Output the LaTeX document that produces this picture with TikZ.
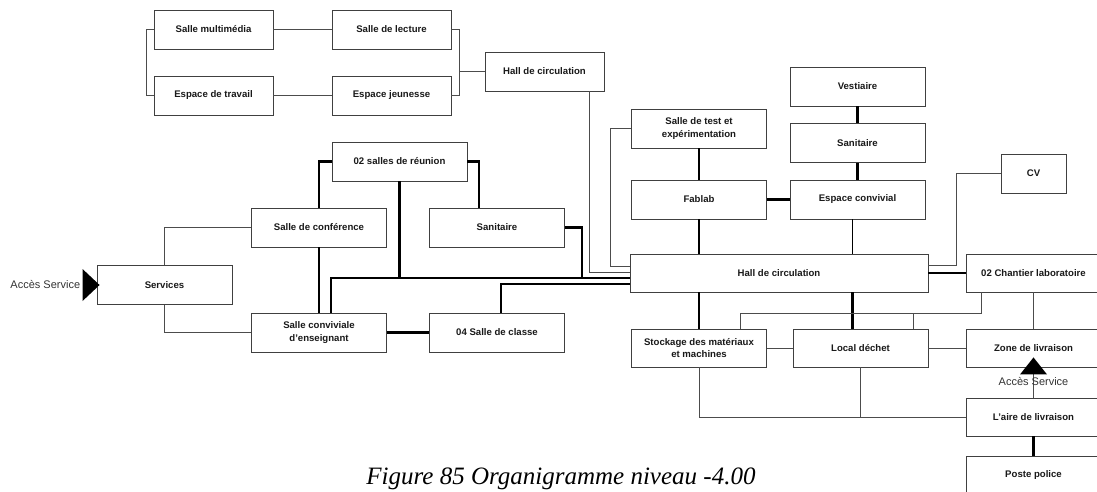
\documentclass[tikz,border=0pt]{standalone}
\usepackage{fontspec}
\setmainfont{Liberation Sans}
\newfontfamily\legendefont{Liberation Serif}
\usetikzlibrary{arrows.meta}

\begin{document}
\begin{tikzpicture}[x=1pt,y=-1pt,line width=0.75pt,
  salle/.style={draw=black!75,line width=0.9pt,fill=white,text=black!90,minimum width=135pt,minimum height=39pt,inner sep=1pt,align=center,font=\fontsize{9.6}{12.8}\selectfont\bfseries},
  petite/.style={salle,minimum width=119pt},
  lien/.style={draw=black!70,line width=0.8pt},
  lienmoyen/.style={draw=black,line width=1.5pt},
  lienfort/.style={draw=black,line width=2.2pt},
  acces/.style={font=\fontsize{11}{13}\selectfont,text=black!80,inner sep=1pt}]
\useasboundingbox (0,0) rectangle (1097,492);
\node[petite] (multimedia) at (213.5,29.5) {Salle multimédia};
\node[petite] (lecture) at (391.5,29.5) {Salle de lecture};
\node[petite] (travail) at (213.5,95.5) {Espace de travail};
\node[petite] (jeunesse) at (391.5,95.5) {Espace jeunesse};
\node[petite] (hallhaut) at (544.5,71.5) {Hall de circulation};
\node[salle] (reunion) at (399.5,161.5) {02 salles de réunion};
\node[salle] (conference) at (319,227.5) {Salle de conférence};
\node[salle] (sanitaireg) at (497,227.5) {Sanitaire};
\node[salle] (services) at (164.5,285) {Services};
\node[salle] (conviviale) at (319,332.5) {Salle conviviale\\d’enseignant};
\node[salle] (classe) at (497,332.5) {04 Salle de classe};
\node[salle] (vestiaire) at (857.5,86.5) {Vestiaire};
\node[salle] (sanitaired) at (857.5,143) {Sanitaire};
\node[salle] (test) at (699,128.5) {Salle de test et\\expérimentation};
\node[salle] (fablab) at (699,199.5) {Fablab};
\node[salle] (convivial) at (857.5,199.5) {Espace convivial};
\node[salle,minimum width=65pt] (cv) at (1033.5,173.5) {CV};
\node[salle,minimum width=298pt,minimum height=38pt] (hall) at (779,273) {Hall de circulation};
\node[salle,minimum height=38pt] (chantier) at (1033.5,273) {02 Chantier laboratoire};
\node[salle,minimum height=38pt] (stockage) at (699,348) {Stockage des matériaux\\et machines};
\node[salle,minimum height=38pt] (dechet) at (860.5,348) {Local déchet};
\node[salle,minimum height=38pt] (zone) at (1033.5,348) {Zone de livraison};
\node[salle,minimum height=38pt] (aire) at (1033.5,417) {L’aire de livraison};
\node[salle] (police) at (1033.5,475.5) {Poste police};
\coordinate (bus) at ([yshift=-5pt]hall.west);
\coordinate (descente) at ([xshift=-5pt]convivial.south);
\coordinate (vers) at ([xshift=-8pt]dechet.north);
\draw[lien] (multimedia.west) -- ++(-7,0) |- (travail.west);
\draw[lien] (multimedia) -- (lecture);
\draw[lien] (travail) -- (jeunesse);
\draw[lien] (lecture.east) -- ++(8,0) |- (jeunesse.east);
\draw[lien] (lecture.east) ++(8,0) |- (hallhaut.west);
\draw[lien] ([xshift=-15pt]hallhaut.south east) |- ([yshift=1pt]hall.west);
\draw[lien] (test.west) -- ++(-21,0) |- ([yshift=7pt]hall.west);
\draw[lienfort] (reunion.west) -| (conference.north);
\draw[lienfort] (reunion.east) -| ([xshift=-18pt]sanitaireg.north);
\draw[lienfort] ([xshift=12pt]conviviale.north) |- (bus);
\draw[lienfort] (reunion.south) -- (reunion.south |- bus);
\draw[lienfort] (sanitaireg.east) -- ++(17,0) |- (bus);
\draw[lienfort] (conference) -- (conviviale);
\draw[lienfort] (conviviale) -- (classe);
\draw[lienfort] ([xshift=4pt]classe.north) |- ([yshift=-11pt]hall.west);
\draw[lien] (conference.west) -| (services.north);
\draw[lien] (services.south) |- (conviviale.west);
\draw[lienfort] (vestiaire) -- (sanitaired);
\draw[lienfort] (sanitaired) -- (convivial);
\draw[lienmoyen] (test) -- (fablab);
\draw[lienfort] (fablab) -- (convivial);
\draw[lienmoyen] (fablab.south) -- (fablab.south |- hall.north);
\draw[lienmoyen] (descente) -- (descente |- hall.north);
\draw[lien] ([yshift=8pt]hall.east) -- ++(28,0) |- (cv.west);
\draw[lienfort] (hall) -- (chantier);
\draw[lienfort] (stockage.north |- hall.south) -- (stockage.north);
\draw[lienfort] (vers |- hall.south) -- (vers);
\draw[lien] ([xshift=16pt]chantier.south west) -- ++(0,21) -| ([xshift=41pt]stockage.north);
\draw[lien] ([xshift=52.5pt]dechet.north) -- ++(0,-16);
\draw[lien] (chantier) -- (zone);
\draw[lien] (stockage) -- (dechet);
\draw[lien] (dechet) -- (zone);
\draw[lien] (stockage.south) |- (aire.west);
\draw[lien] (dechet.south) -- (dechet.south |- aire.west);
\draw[lien] (aire) -- (zone);
\draw[lienfort] (aire) -- (police);
\fill (services.west) ++(3,0) -- ++(-17,-16) -- ++(0,32) -- cycle;
\node[acces,anchor=east] (accesg) at ([xshift=-15pt]services.west) {Accès Service};
\fill (zone.south) ++(0,-10) -- ++(-13.5,17) -- ++(27,0) -- cycle;
\node[acces] (accesd) at (1033.5,382) {Accès Service};
\node[font=\legendefont\itshape\fontsize{25}{30}\selectfont,anchor=base] (legende) at (561,484) {Figure 85 Organigramme niveau -4.00};
\end{tikzpicture}
\end{document}
